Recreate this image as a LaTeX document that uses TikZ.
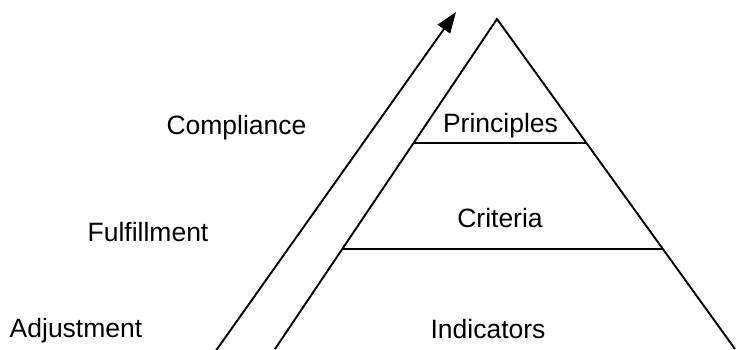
\documentclass[tikz,border=0pt]{standalone}
\usepackage{fontspec}
\setmainfont{Liberation Sans}
\usetikzlibrary{arrows.meta,calc}
\begin{document}
\begin{tikzpicture}[x=1pt,y=-1pt,
  edge/.style={line width=1.9pt,line cap=butt},
  lbl/.style={anchor=base,inner sep=0pt,font=\fontsize{26.5}{30}\selectfont}]
\useasboundingbox (0,0) rectangle (736,349);
\clip (0,0) rectangle (736,349);
% triangle
\coordinate (apex) at (497,19);
\coordinate (bl) at (275,349);
\coordinate (br) at (735,349);
\coordinate (pl) at ($(apex)!0.3767!(bl)$);
\coordinate (pr) at ($(apex)!0.3767!(br)$);
\coordinate (cl) at ($(apex)!0.698!(bl)$);
\coordinate (cr) at ($(apex)!0.698!(br)$);
\draw[edge,line join=miter] (bl) -- (apex) -- (br);
\draw[edge] (pl) -- (pr);
\draw[edge] (cl) -- (cr);
% arrow
\coordinate (arrowstart) at (215,352);
\coordinate (arrowtip) at (456,12);
\draw[edge,-{Triangle[length=21pt,width=15pt]}] (arrowstart) -- (arrowtip);
% labels
\node[lbl] (principles) at (500.5,132.7) {Principles};
\node[lbl] (criteria) at (500,227.3) {Criteria};
\node[lbl] (indicators) at (488,338.5) {Indicators};
\node[lbl] (compliance) at (236.5,134) {Compliance};
\node[lbl] (fulfillment) at (148,241.7) {Fulfillment};
\node[lbl] (adjustment) at (76,337) {Adjustment};
\end{tikzpicture}
\end{document}
